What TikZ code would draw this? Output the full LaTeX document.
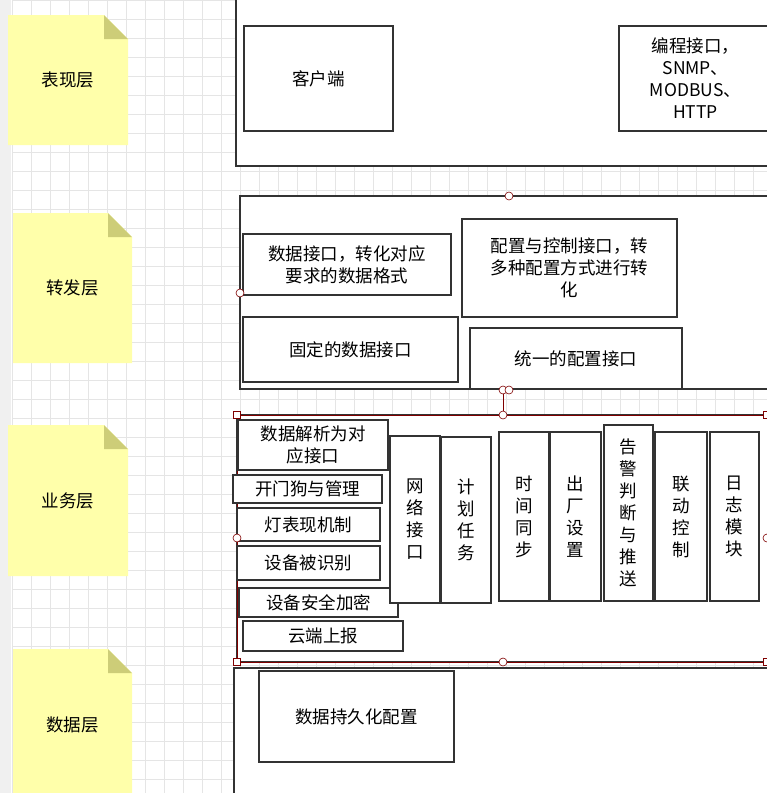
\documentclass[tikz,border=0pt]{standalone}
\usepackage{fontspec}
\setmainfont{Noto Sans CJK SC}
\begin{document}
\begin{tikzpicture}[x=1pt,y=-1pt,
  bx/.style={draw=black!80,line width=2.6pt,fill=white,align=center,font=\fontsize{17.5}{22}\selectfont,inner sep=0pt},
  outer/.style={draw=black!80,line width=2.4pt,fill=white},
  note/.style={fill={rgb,255:red,255;green,255;blue,170},draw=none},
  fold/.style={fill={rgb,255:red,205;green,205;blue,120},draw=none},
  hnd/.style={circle,draw=red!50!black,fill=white,inner sep=0pt,minimum size=8pt,line width=0.6pt},
  hsq/.style={rectangle,draw=red!50!black,fill=white,inner sep=0pt,minimum size=7pt,line width=0.6pt},
  lbl/.style={font=\fontsize{17.5}{22}\selectfont}]
\useasboundingbox (0,0) rectangle (767,793);
\fill[white] (0,0) rectangle (767,793);
\fill[black!6] (0,0) rectangle (11,793);
\foreach \x in {12,31,...,767} \draw[black!10,line width=0.5pt] (\x,0) -- (\x,793);
\foreach \y in {0,19,...,793} \draw[black!10,line width=0.5pt] (12,\y) -- (767,\y);
% sticky notes
\newcommand\stick[6]{%
 \fill[note] (#1,#2) -- (#3-24,#2) -- (#3,#2+24) -- (#3,#4) -- (#1,#4) -- cycle;
 \fill[fold] (#3-24,#2) -- (#3,#2+24) -- (#3-24,#2+24) -- cycle;
 \node[lbl] (#6) at ({(#1+#3)/2},{(#2+#4)/2}) {#5};}
\stick{8}{15}{128}{145}{表现层}{n1}
\stick{13}{213}{132}{363}{转发层}{n2}
\stick{8}{425}{128}{576}{业务层}{n3}
\stick{13}{649}{132}{800}{数据层}{n4}
% layers
\newcommand\bx[6]{\node[bx,minimum width={#4-#2},minimum height={#5-#3}] (#1) at ({(#2+#4)/2},{(#3+#5)/2}) {#6};}
\draw[outer] (236,-5) rectangle (780,166);
\bx{c1}{244}{26}{393}{131}{客户端}
\bx{c2}{619}{26}{772}{131}{编程接口，\\SNMP、\\MODBUS、\\HTTP}
\draw[outer] (240,196) rectangle (780,389);
\bx{f1}{243}{234}{451}{295}{数据接口，转化对应\\要求的数据格式}
\bx{f2}{462}{219}{677}{317}{配置与控制接口，转\\多种配置方式进行转\\化}
\bx{f3}{243}{317}{458}{382}{固定的数据接口}
\bx{f4}{470}{328}{682}{389}{统一的配置接口}
\draw[outer] (237,415) rectangle (780,662);
\draw[red!50!black,line width=0.6pt] (237,415) rectangle (767,662);
\bx{b1}{238}{420}{388}{470}{数据解析为对\\应接口}
\bx{b2}{233}{475}{382}{503}{开门狗与管理}
\bx{b3}{237}{508}{380}{541}{灯表现机制}
\bx{b4}{237}{546}{380}{580}{设备被识别}
\bx{b5}{239}{588}{398}{617}{设备安全加密}
\bx{b6}{243}{621}{403}{651}{云端上报}
\bx{v1}{390}{436}{440}{603}{网\\络\\接\\口}
\bx{v2}{441}{437}{491}{603}{计\\划\\任\\务}
\bx{v3}{499}{432}{549}{601}{时\\间\\同\\步}
\bx{v4}{550}{432}{601}{601}{出\\厂\\设\\置}
\bx{v5}{604}{425}{653}{601}{告\\警\\判\\断\\与\\推\\送}
\bx{v6}{655}{432}{707}{601}{联\\动\\控\\制}
\bx{v7}{710}{432}{759}{601}{日\\志\\模\\块}
\draw[outer] (234,668) rectangle (780,810);
\bx{d1}{259}{671}{454}{762}{数据持久化配置}
% handles
\coordinate (ha) at (503,390);
\coordinate (hb) at (503,415);
\draw[red!50!black,line width=0.6pt] (ha) -- (hb);
\node[hnd] at (509,196) {};
\node[hnd] at (240,293) {};
\node[hnd] at (503,390) {};
\node[hnd] at (509,390) {};
\node[hnd] at (503,415) {};
\node[hnd] at (503,662) {};
\node[hnd] at (237,538) {};
\node[hnd] at (767,538) {};
\node[hsq] at (237,415) {};
\node[hsq] at (237,662) {};
\node[hsq] at (767,415) {};
\node[hsq] at (767,662) {};
\end{tikzpicture}
\end{document}
